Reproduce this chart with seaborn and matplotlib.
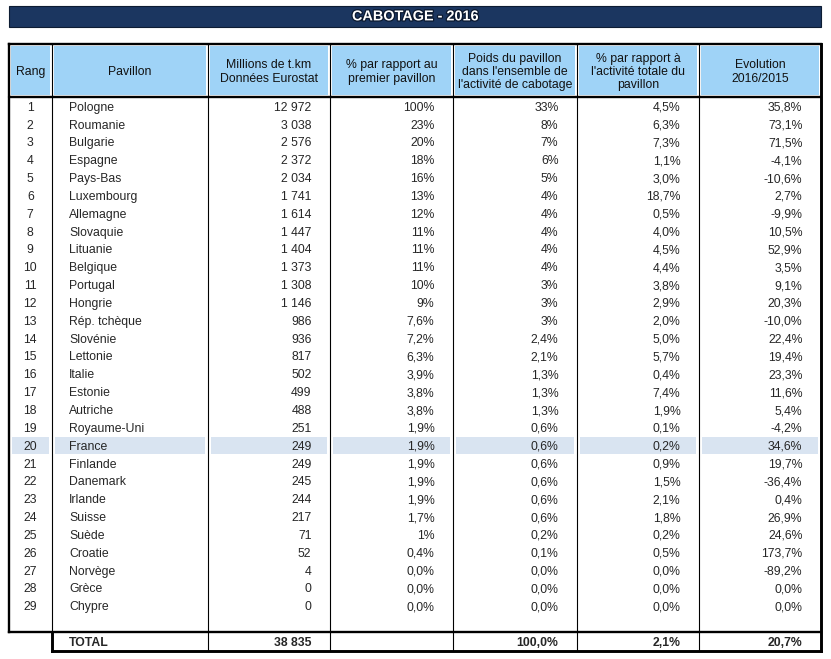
import matplotlib
matplotlib.use("Agg")
import matplotlib.pyplot as plt
import matplotlib.patheffects as pe
from matplotlib.patches import Rectangle
import seaborn as sns

sns.set_theme(style="white")
plt.rcParams['font.family'] = ['Liberation Sans', 'DejaVu Sans']

# ---------------- data ----------------
title = "CABOTAGE - 2016"
headers = ["Rang", "Pavillon", "Millions de t.km\nDonnées Eurostat",
           "% par rapport au\npremier pavillon",
           "Poids du pavillon\ndans l'ensemble de\nl'activité de cabotage",
           "% par rapport à\nl'activité totale du\npavillon",
           "Evolution\n2016/2015"]
pavillon = ["Pologne", "Roumanie", "Bulgarie", "Espagne", "Pays-Bas", "Luxembourg",
            "Allemagne", "Slovaquie", "Lituanie", "Belgique", "Portugal", "Hongrie",
            "Rép. tchèque", "Slovénie", "Lettonie", "Italie", "Estonie", "Autriche",
            "Royaume-Uni", "France", "Finlande", "Danemark", "Irlande", "Suisse",
            "Suède", "Croatie", "Norvège", "Grèce", "Chypre"]
rang = list(range(1, len(pavillon) + 1))
millions = [12972, 3038, 2576, 2372, 2034, 1741, 1614, 1447, 1404, 1373, 1308, 1146,
            986, 936, 817, 502, 499, 488, 251, 249, 249, 245, 244, 217, 71, 52, 4, 0, 0]
pct_premier = ["100%", "23%", "20%", "18%", "16%", "13%", "12%", "11%", "11%", "11%",
               "10%", "9%", "7,6%", "7,2%", "6,3%", "3,9%", "3,8%", "3,8%", "1,9%",
               "1,9%", "1,9%", "1,9%", "1,9%", "1,7%", "1%", "0,4%", "0,0%", "0,0%", "0,0%"]
poids = ["33%", "8%", "7%", "6%", "5%", "4%", "4%", "4%", "4%", "4%", "3%", "3%", "3%",
         "2,4%", "2,1%", "1,3%", "1,3%", "1,3%", "0,6%", "0,6%", "0,6%", "0,6%", "0,6%",
         "0,6%", "0,2%", "0,1%", "0,0%", "0,0%", "0,0%"]
pct_activite = ["4,5%", "6,3%", "7,3%", "1,1%", "3,0%", "18,7%", "0,5%", "4,0%", "4,5%",
                "4,4%", "3,8%", "2,9%", "2,0%", "5,0%", "5,7%", "0,4%", "7,4%", "1,9%",
                "0,1%", "0,2%", "0,9%", "1,5%", "2,1%", "1,8%", "0,2%", "0,5%", "0,0%",
                "0,0%", "0,0%"]
evolution = ["35,8%", "73,1%", "71,5%", "-4,1%", "-10,6%", "2,7%", "-9,9%", "10,5%",
             "52,9%", "3,5%", "9,1%", "20,3%", "-10,0%", "22,4%", "19,4%", "23,3%",
             "11,6%", "5,4%", "-4,2%", "34,6%", "19,7%", "-36,4%", "0,4%", "26,9%",
             "24,6%", "173,7%", "-89,2%", "0,0%", "0,0%"]
total_row = ["", "TOTAL", "38 835", "", "100,0%", "2,1%", "20,7%"]
highlight = "France"

# ---------------- layout ----------------
W, H = 831, 659
cols = [8.5, 52, 208, 330, 453, 577, 699, 821]
table_top = 43.5
header_bot = 97.2
row0 = 97.4
row_h = 17.84
body_bot = 632
total_bot = 651
pad = 18.5
fs = 8.8

navy = "#1b3660"
head_blue = "#9fd3f7"
hl_blue = "#d9e4f1"

fig = plt.figure(figsize=(W / 100, H / 100), dpi=100)
ax = fig.add_axes([0, 0, 1, 1])
ax.set_xlim(0, W)
ax.set_ylim(H, 0)
ax.axis("off")

# title bar
ax.add_patch(Rectangle((9, 6), 812, 21, facecolor=navy, edgecolor="#0d1c33", lw=0.8))
ax.text(415, 16.4, title, color="white", fontsize=10.4, fontweight="bold",
        ha="center", va="center",
        path_effects=[pe.withStroke(linewidth=1.8, foreground="#0b1930")])

# header cells
for j in range(7):
    ax.add_patch(Rectangle((cols[j] + 2.2, table_top + 2), cols[j + 1] - cols[j] - 4.4,
                           header_bot - table_top - 4, facecolor=head_blue, edgecolor="none"))
    ax.text((cols[j] + cols[j + 1]) / 2, 72.0, headers[j], fontsize=fs, ha="center",
            va="center", multialignment="center", linespacing=1.16, color="#111111")

# body rows
cell_values = [
    [str(r) for r in rang],
    pavillon,
    [f"{v:,}".replace(",", " ") for v in millions],
    pct_premier, poids, pct_activite, evolution,
]
for i in range(len(pavillon)):
    yc = row0 + (i + 0.5) * row_h
    if pavillon[i] == highlight:
        for j in range(7):
            ax.add_patch(Rectangle((cols[j] + 3, yc - row_h / 2 + 0.6),
                                   cols[j + 1] - cols[j] - 6, row_h - 1.2,
                                   facecolor=hl_blue, edgecolor="none"))
    yb = yc + 4.4
    for j in range(7):
        s = cell_values[j][i]
        if j == 0:
            ax.text((cols[0] + cols[1]) / 2, yb, s, fontsize=fs, ha="center", va="baseline")
        elif j == 1:
            ax.text(cols[1] + 17, yb, s, fontsize=fs, ha="left", va="baseline")
        else:
            ax.text(cols[j + 1] - pad, yb, s, fontsize=fs, ha="right", va="baseline")

# total row
yb = (body_bot + total_bot) / 2 + 4.4
for j, s in enumerate(total_row):
    if not s:
        continue
    if j == 1:
        ax.text(cols[1] + 17, yb, s, fontsize=fs, ha="left", va="baseline", fontweight="bold")
    else:
        ax.text(cols[j + 1] - pad, yb, s, fontsize=fs, ha="right", va="baseline",
                fontweight="bold")

# grid lines
thin = 0.8
thick = 1.7
for x in cols[2:-1]:
    ax.plot([x, x], [table_top, total_bot], color="black", lw=thin, solid_capstyle="butt")
ax.plot([cols[1], cols[1]], [table_top, body_bot], color="black", lw=thin)
ax.plot([cols[1], cols[1]], [body_bot, total_bot], color="black", lw=thick + 0.4,
        solid_capstyle="projecting")
ax.plot([cols[0], cols[0]], [table_top, body_bot], color="black", lw=thick,
        solid_capstyle="projecting")
ax.plot([cols[-1], cols[-1]], [table_top, total_bot], color="black", lw=thick + 0.4,
        solid_capstyle="projecting")
ax.plot([cols[0], cols[-1]], [table_top, table_top], color="black", lw=thick,
        solid_capstyle="projecting")
ax.plot([cols[0], cols[-1]], [header_bot, header_bot], color="black", lw=thick)
ax.plot([cols[0], cols[-1]], [body_bot, body_bot], color="black", lw=thick,
        solid_capstyle="projecting")
ax.plot([cols[1], cols[-1]], [total_bot, total_bot], color="black", lw=thick + 0.4,
        solid_capstyle="projecting")

fig.savefig("out.png", dpi=100, facecolor="white")
